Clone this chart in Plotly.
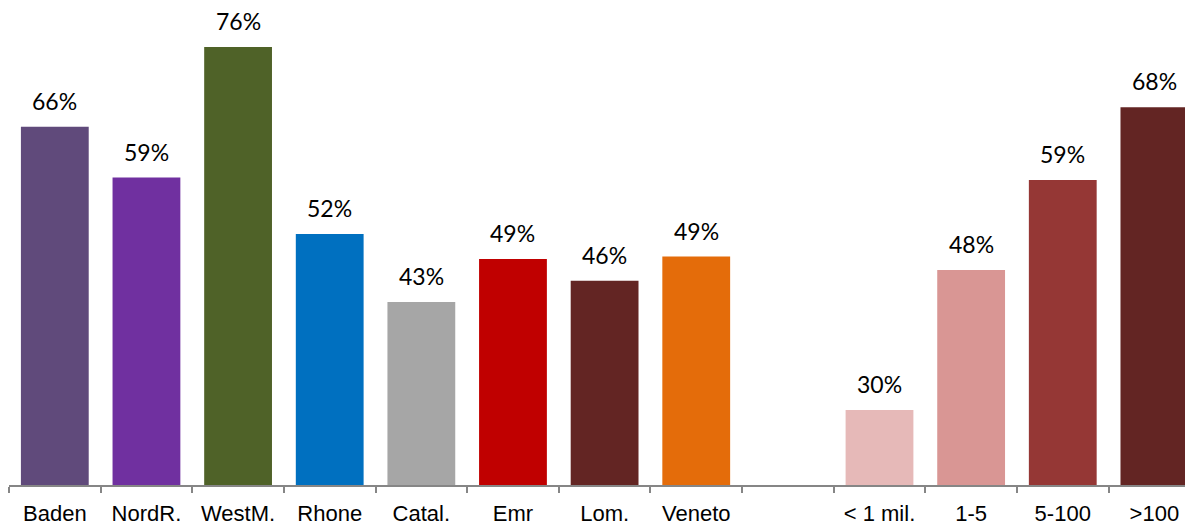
import plotly.graph_objects as go

categories = ["Baden", "NordR.", "WestM.", "Rhone", "Catal.", "Emr", "Lom.", "Veneto",
              " ", "< 1 mil.", "1-5", "5-100", ">100"]
values = [65.8, 59.3, 76.0, 52.1, 43.4, 48.9, 46.1, 49.2, None, 29.6, 47.5, 59.0, 68.3]
labels = ["66%", "59%", "76%", "52%", "43%", "49%", "46%", "49%", "", "30%", "48%", "59%", "68%"]
colors = ["#604A7B", "#7030A0", "#4F6228", "#0070C0", "#A6A6A6", "#C00000", "#632523",
          "#E46C0A", "#FFFFFF", "#E6B9B8", "#D99694", "#953735", "#632523"]

fig = go.Figure()
fig.add_trace(go.Bar(
    x=categories, y=values,
    marker=dict(color=colors, line=dict(width=0)),
    hoverinfo="x+y",
))

for c, v, t in zip(categories, values, labels):
    if v is None:
        continue
    fig.add_annotation(x=c, y=v, text=t, showarrow=False, yanchor="bottom",
                       yshift=10, font=dict(family="Lato, Noto Sans, sans-serif", size=23, color="#000000"))

fig.update_layout(
    width=1185, height=525,
    margin=dict(l=9, r=0, t=0, b=40, autoexpand=False),
    paper_bgcolor="white", plot_bgcolor="white",
    bargap=0.26,
    showlegend=False,
    xaxis=dict(
        type="category",
        range=[-0.5, 12.334],
        automargin=False,
        showgrid=False, zeroline=False,
        showline=True, linecolor="#868686", linewidth=1.5,
        ticks="outside", tickson="boundaries", ticklen=6, tickcolor="#868686", tickwidth=1.5,
        ticklabelstandoff=8,
        tickfont=dict(family="Liberation Sans, Arial, sans-serif", size=22, color="#000000"),
    ),
    yaxis=dict(
        range=[20, 82], visible=False, showgrid=False, zeroline=False, automargin=False,
    ),
)

fig.write_html("out.html", config={"displayModeBar": False},
               post_script="document.body.style.margin='0';document.body.style.overflow='hidden';")
